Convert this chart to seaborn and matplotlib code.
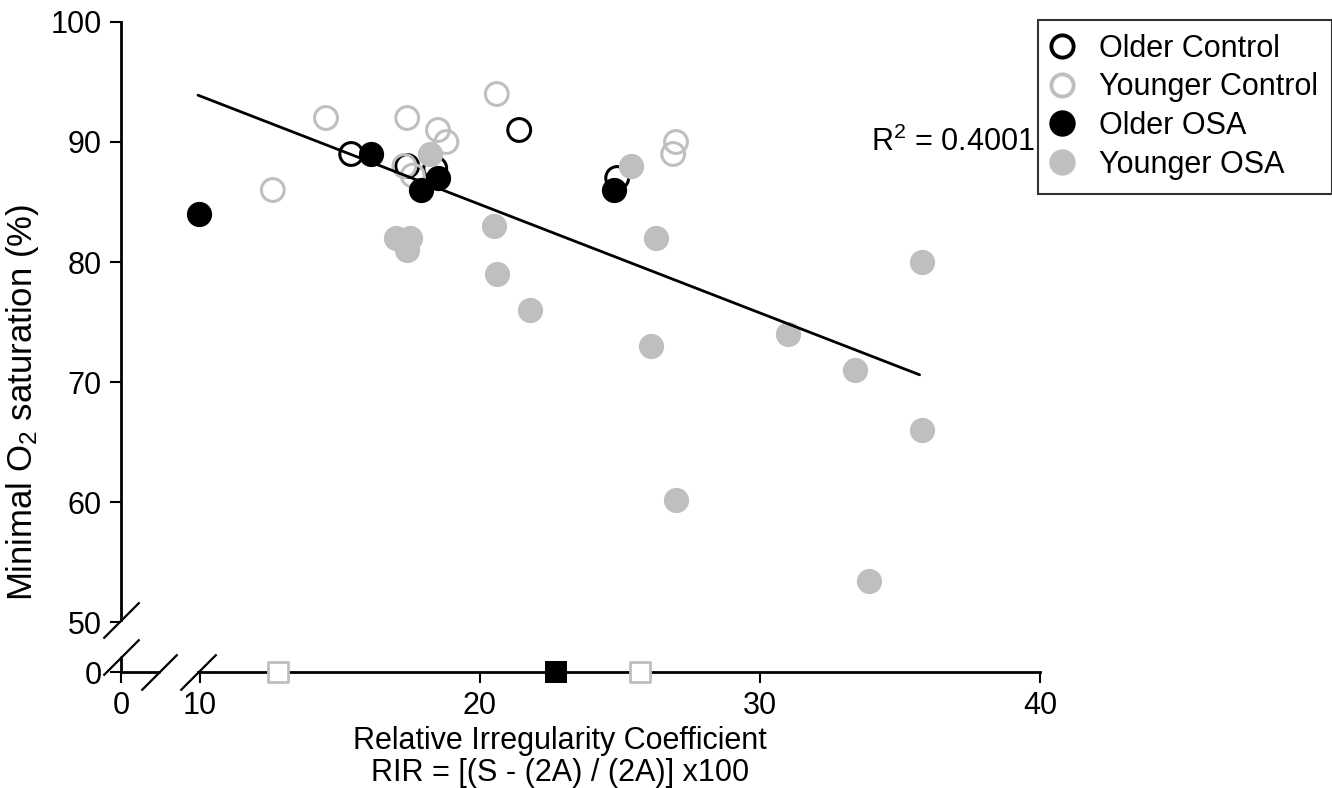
import numpy as np
import pandas as pd
import matplotlib

matplotlib.use("Agg")
import matplotlib.pyplot as plt
from matplotlib.lines import Line2D
import seaborn as sns

# data
older_ctrl_x = [15.4, 17.4, 18.4, 21.4, 24.9]
older_ctrl_y = [89, 88, 87.8, 91, 87]

younger_ctrl_x = [12.6, 14.5, 17.4, 17.3, 17.6, 18.5, 18.8, 20.6, 27.0, 26.9]
younger_ctrl_y = [86, 92, 92, 88, 87.2, 91, 90, 94, 90, 89]

older_osa_x = [9.9, 16.1, 17.9, 18.5, 24.8]
older_osa_y = [84, 89, 86, 87, 86]

younger_osa_x = [17.0, 17.5, 17.4, 18.2, 20.5, 20.6, 21.8, 25.4, 26.3, 26.1,
                 27.0, 31.0, 33.4, 33.9, 35.8, 35.8]
younger_osa_y = [82, 82, 81, 89, 83, 79, 76, 88, 82, 73,
                 60.2, 74, 71, 53.4, 80, 66]

# group means shown on the x axis (y = 0)
mean_gray_x = [12.8, 25.7]
mean_black_x = [22.7]

trend_x = [9.75, 35.7]
trend_y = [93.9, 70.6]
r2_text = "R$\\mathregular{^2}$ = 0.4001"

xticks = [0, 10, 20, 30, 40]
yticks = [0, 50, 60, 70, 80, 90, 100]

GRAY = "#bfbfbf"
FS = 22

sns.set_style("white")
plt.rcParams["font.family"] = ["Liberation Sans", "DejaVu Sans"]
plt.rcParams["mathtext.fontset"] = "custom"
plt.rcParams["mathtext.rm"] = "Liberation Sans"
for key in ["text.color", "axes.labelcolor", "xtick.color", "ytick.color"]:
    plt.rcParams[key] = "black"


# broken axes: 0..10 on x and 0..50 on y are squeezed
def fwd_x(v):
    v = np.asarray(v, dtype=float)
    return np.where(v >= 10, v, 10 - (10 - v) * 79 / 280)


def inv_x(v):
    v = np.asarray(v, dtype=float)
    return np.where(v >= 10, v, 10 - (10 - v) * 280 / 79)


def fwd_y(v):
    v = np.asarray(v, dtype=float)
    return np.where(v >= 50, v, 50 - (50 - v) * 50 / 600)


def inv_y(v):
    v = np.asarray(v, dtype=float)
    return np.where(v >= 50, v, 50 - (50 - v) * 600 / 50)


fig = plt.figure(figsize=(13.32, 7.88), dpi=100)
ax = fig.add_axes([121 / 1332, 1 - 672 / 788, 919 / 1332, 650 / 788])

size = 330
sns.scatterplot(x=older_ctrl_x, y=older_ctrl_y, ax=ax, s=size - 60, color="none",
                edgecolor="black", linewidth=2.2, zorder=3)
sns.scatterplot(x=younger_ctrl_x, y=younger_ctrl_y, ax=ax, s=size - 60, color="none",
                edgecolor=GRAY, linewidth=2.2, zorder=3)
sns.scatterplot(x=older_osa_x, y=older_osa_y, ax=ax, s=size, color="black",
                linewidth=0, zorder=4)
sns.scatterplot(x=younger_osa_x, y=younger_osa_y, ax=ax, s=size, color=GRAY,
                linewidth=0, zorder=4)

sns.scatterplot(x=mean_gray_x, y=[0] * len(mean_gray_x), ax=ax, marker="s", s=200,
                color="white", edgecolor=GRAY, linewidth=2, zorder=5, clip_on=False)
sns.scatterplot(x=mean_black_x, y=[0] * len(mean_black_x), ax=ax, marker="s", s=270,
                color="black", linewidth=0, zorder=5, clip_on=False)

sns.lineplot(x=trend_x, y=trend_y, ax=ax, color="black", linewidth=2, zorder=6)

ax.set_xscale("function", functions=(fwd_x, inv_x))
ax.set_yscale("function", functions=(fwd_y, inv_y))
ax.set_xlim(0, 40)
ax.set_ylim(0, 100)
ax.set_xticks(xticks)
ax.set_yticks(yticks)
ax.set_xticklabels([str(t) for t in xticks])
ax.set_yticklabels([str(t) for t in yticks])
ax.minorticks_off()
ax.tick_params(axis="both", direction="out", length=8, width=1.5, labelsize=FS,
               pad=6, colors="black", bottom=True, left=True)

for side in ["top", "right"]:
    ax.spines[side].set_visible(False)
ax.spines["left"].set_bounds(50.2, 100)
ax.spines["bottom"].set_bounds(9.8, 40)
for side in ["left", "bottom"]:
    ax.spines[side].set_linewidth(2)
    ax.spines[side].set_color("black")

# short axis pieces below / left of the breaks
ax.plot([0, 0], [0, 15], color="black", lw=2, clip_on=False, zorder=2)
ax.plot([0, 4.85], [0, 0], color="black", lw=2, clip_on=False, zorder=2)

# break marks
slash = [(-1, -1), (1, 1)]
ax.plot([0, 0], [50.2, 15], marker=slash, markersize=26, mew=1.6, color="black",
        linestyle="none", clip_on=False, zorder=7)
ax.plot([4.85, 9.8], [0, 0], marker=slash, markersize=26, mew=1.6, color="black",
        linestyle="none", clip_on=False, zorder=7)

ax.set_ylabel("Minimal O$\\mathregular{_2}$ saturation (%)", fontsize=FS + 3)
ax.yaxis.set_label_coords(-0.087, 0.415)
ax.set_xlabel("Relative Irregularity Coefficient\nRIR = [(S - (2A) / (2A)] x100",
              fontsize=FS, linespacing=1.08)
ax.xaxis.set_label_coords(0.478, -0.083)

ax.text(33.95, 90.0, r2_text, fontsize=FS, ha="left", va="center")

handles = [
    Line2D([], [], marker="o", linestyle="none", markersize=16, mfc="none",
           mec="black", mew=2.8),
    Line2D([], [], marker="o", linestyle="none", markersize=16, mfc="none",
           mec=GRAY, mew=2.8),
    Line2D([], [], marker="o", linestyle="none", markersize=19, mfc="black",
           mec="black", mew=0),
    Line2D([], [], marker="o", linestyle="none", markersize=19, mfc=GRAY,
           mec=GRAY, mew=0),
]
labels = ["Older Control", "Younger Control", "Older OSA", "Younger OSA"]
leg = fig.legend(handles, labels, loc="upper left",
                 bbox_to_anchor=(1038 / 1332, 1 - 20 / 788), fontsize=FS,
                 frameon=True, fancybox=False, edgecolor="black",
                 handlelength=0.7, handletextpad=0.84, labelspacing=0.285,
                 borderpad=0.45, borderaxespad=0)
leg.get_frame().set_linewidth(1.5)

fig.savefig("out.png", dpi=100, facecolor="white")
